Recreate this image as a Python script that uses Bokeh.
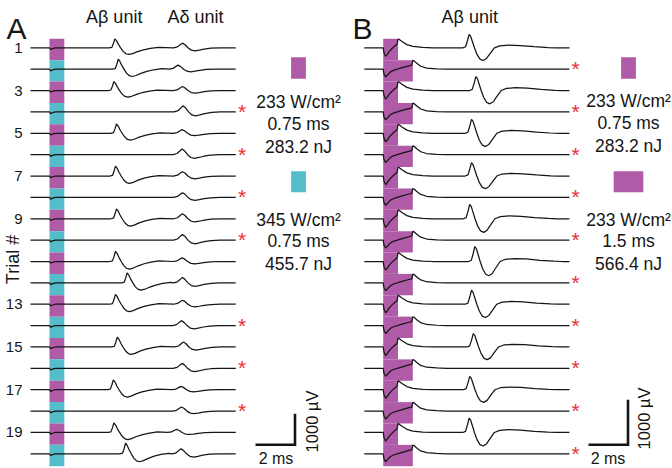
import math
from bokeh.plotting import figure
from bokeh.models import Range1d
from bokeh.embed import file_html
from bokeh.resources import INLINE
from bokeh.core.properties import value

# ------------------------------------------------------------------ data
TRIALS = list(range(1, 21))
TRIAL_TICKS = [1, 3, 5, 7, 9, 13, 15, 17, 19]
TRIAL_TICK_LABELS = ["1", "3", "5", "7", "9", "13", "15", "17", "19"]

TRACE_START_MS = -0.96
TRACE_END_MS = 9.43

# Panel A: alternating 233 / 345 W/cm2 pulses, 0.75 ms
A_STIM_DUR_MS = [0.75] * 20
A_STIM_KIND = ["233", "345"] * 10
A_AB_PEAK_MS = [3.31, 3.48, 3.26, None, 3.39, None, 3.34, None, 3.39, None,
                3.34, 3.93, 3.34, None, 3.43, None, 3.23, None, 3.26, 3.85]
A_AB_AMP_UV = [290, 320, 290, 0, 300, 0, 320, 0, 320, 0,
               330, 320, 320, 0, 320, 0, 320, 0, 310, 345]
A_AD_PEAK_MS = [6.73, 6.51, 6.73, 6.76, 6.71, 6.71, 6.73, 6.73, 6.73, 6.73,
                6.71, 6.73, 6.73, 6.68, 6.78, 6.71, 6.66, 6.68, 6.43, 6.66]
A_AD_AMP_UV = [150, 130, 130, 195, 118, 183, 140, 150, 160, 183,
               118, 172, 130, 160, 160, 160, 108, 130, 100, 160]

# waveform shapes (time from peak in ms, fraction of peak)
AB_A_DT = [-0.30, -0.15, -0.07, 0.0, 0.08, 0.18, 0.29, 0.42, 0.56, 0.71, 0.90, 1.15, 1.45, 1.80, 2.20]
AB_A_REL = [0.0, 0.06, 0.50, 1.0, 0.80, 0.38, 0.0, -0.40, -0.66, -0.74, -0.64, -0.42, -0.22, -0.06, 0.05]
AD_DT = [-0.45, -0.25, -0.10, 0.0, 0.12, 0.28, 0.45, 0.64, 0.85, 1.10, 1.45, 1.90]
AD_REL = [0.0, 0.20, 0.70, 1.0, 0.70, 0.0, -0.50, -0.65, -0.50, -0.28, -0.08, 0.0]
A_ART_T = [0.0, 0.06, 0.15, 0.30]
A_ART_UV = [0.0, -55, -25, 0.0]

# Panel B: alternating 0.75 / 1.5 ms pulses at 233 W/cm2
B_STIM_DUR_MS = [0.75, 1.5] * 10
B_AB_PEAK_MS = [4.35, None, 4.69, None, 4.47, None, 4.47, None, 4.38, None,
                4.64, None, 4.47, None, 4.56, None, 4.38, None, 4.35, None]
B_AB_AMP_UV = [296, 0, 311, 0, 311, 0, 296, 0, 318, 0,
               333, 0, 311, 0, 296, 0, 296, 0, 318, 0]
AB_B_DT = [-0.32, -0.18, -0.08, 0.0, 0.08, 0.17, 0.27, 0.40, 0.55, 0.71, 0.88, 1.05,
           1.28, 1.55, 2.0, 2.6, 3.3, 4.0, 4.4]
AB_B_REL = [0.0, 0.08, 0.55, 1.0, 0.85, 0.45, 0.0, -0.50, -0.85, -0.95, -0.80, -0.45,
            0.0, 0.15, 0.20, 0.17, 0.08, 0.02, 0.0]
ART_SHORT_T = [0.0, 0.04, 0.12, 0.20, 0.32, 0.45, 0.58, 0.70, 0.75, 0.80, 0.95, 1.20, 1.50, 2.00, 2.50]
ART_SHORT_UV = [0, -110, -190, -150, -75, -15, 40, 75, 195, 190, 140, 70, 30, 10, 0]
ART_LONG_T = [0.0, 0.04, 0.12, 0.22, 0.37, 0.55, 0.75, 1.05, 1.30, 1.45, 1.50, 1.56, 1.70, 1.90, 2.20, 2.70, 3.20]
ART_LONG_UV = [0, -110, -175, -130, -60, -20, 5, 45, 75, 90, 195, 185, 130, 65, 25, 8, 0]

A_LEGEND_DUR_MS = [0.75, 0.75]
A_LEGEND_KIND = ["233", "345"]
A_LEGEND_TEXT = [["233 W/cm²", "0.75 ms", "283.2 nJ"], ["345 W/cm²", "0.75 ms", "455.7 nJ"]]
B_LEGEND_DUR_MS = [0.75, 1.5]
B_LEGEND_KIND = ["233", "233"]
B_LEGEND_TEXT = [["233 W/cm²", "0.75 ms", "283.2 nJ"], ["233 W/cm²", "1.5 ms", "566.4 nJ"]]

SCALE_MS = 2
SCALE_UV = 1000

# ------------------------------------------------------------------ style / layout
FONT = "Liberation Sans"
PURPLE = "#B05BA8"
CYAN = "#55BCCB"
KIND_COLOR = {"233": PURPLE, "345": CYAN}
STAR_RED = "#EE2C38"
INK = "#151515"

FIG_W, FIG_H = 672, 468
ROW0_PX, ROW_PX, PX_PER_MS = 47.3, 21.37, 19.75
A_ONSET_PX, B_ONSET_PX = 49.0, 382.7
A_ROWS_PER_UV = 31.0 / 1000 / ROW_PX
B_ROWS_PER_UV = 45.0 / 1000 / ROW_PX
STAR_DY = -0.02


def kpx(py):
    return 1 + (py - ROW0_PX) / ROW_PX


def tA(px):
    return (px - A_ONSET_PX) / PX_PER_MS


def tB(px):
    return (px - B_ONSET_PX) / PX_PER_MS


p = figure(width=FIG_W, height=FIG_H, output_backend="svg", toolbar_location=None,
           tools="", x_range=Range1d(tA(0), tA(FIG_W)),
           y_range=Range1d(kpx(FIG_H), kpx(0)),
           min_border=0, x_axis_location=None, y_axis_location=None)
p.extra_x_ranges = {"B": Range1d(tB(0), tB(FIG_W))}
p.outline_line_color = None
p.background_fill_color = "white"
p.border_fill_color = "white"
try:
    p.grid.visible = False
except Exception:
    pass


def put_text(x, y, s, size, align="center", baseline="middle", angle=0.0,
             color=INK, rng="default"):
    p.text(x=[x], y=[y], text=[s], text_font=value(FONT), text_font_size=value(size),
           text_align=align, text_baseline=baseline, angle=angle, text_color=color,
           x_range_name=rng)


def build_trace(segments):
    ts, vs = [TRACE_START_MS], [0.0]
    for seg_t, seg_v in segments:
        ts += list(seg_t)
        vs += list(seg_v)
    ts.append(TRACE_END_MS)
    vs.append(0.0)
    return ts, vs


def draw_scale_and_legend(tpx, rng, corner_px, ms_lbl_px, uv_lbl_px, rows_per_uv,
                          legend_cx, rect_rows, text_rows, durs, kinds, texts):
    tc, kc = tpx(corner_px[0]), kpx(corner_px[1])
    p.line(x=[tc - SCALE_MS, tc, tc], y=[kc, kc, kc - SCALE_UV * rows_per_uv],
           line_color=INK, line_width=2.6, line_join="miter", x_range_name=rng)
    put_text(tpx(ms_lbl_px[0]), kpx(ms_lbl_px[1]), f"{SCALE_MS} ms", "16px", rng=rng)
    put_text(tpx(uv_lbl_px[0]), kpx(uv_lbl_px[1]), f"{SCALE_UV} µV", "16.5px",
             angle=math.pi / 2, rng=rng)
    tcen = tpx(legend_cx)
    for (top, bot), dur, kind in zip(rect_rows, durs, kinds):
        p.quad(left=[tcen - dur / 2], right=[tcen + dur / 2], top=[kpx(top)], bottom=[kpx(bot)],
               fill_color=KIND_COLOR[kind], line_color=None, x_range_name=rng)
    for ys, lines in zip(text_rows, texts):
        for y, s in zip(ys, lines):
            put_text(tcen, kpx(y), s, "17.5px", rng=rng)


# ------------------------------------------------------------------ panel A
p.quad(left=[0] * 20, right=A_STIM_DUR_MS, top=[k - 0.42 for k in TRIALS],
       bottom=[k + 0.58 for k in TRIALS], fill_color=[KIND_COLOR[c] for c in A_STIM_KIND],
       line_color=None)
xsA, ysA = [], []
for i, k in enumerate(TRIALS):
    segs = [(A_ART_T, A_ART_UV)]
    if A_AB_PEAK_MS[i] is not None:
        segs.append(([A_AB_PEAK_MS[i] + d for d in AB_A_DT], [A_AB_AMP_UV[i] * r for r in AB_A_REL]))
    segs.append(([A_AD_PEAK_MS[i] + d for d in AD_DT], [A_AD_AMP_UV[i] * r for r in AD_REL]))
    t, v = build_trace(segs)
    xsA.append(t)
    ysA.append([k - uv * A_ROWS_PER_UV for uv in v])
p.multi_line(xs=xsA, ys=ysA, line_color=INK, line_width=1.25)

starsA = [k for i, k in enumerate(TRIALS) if A_AB_PEAK_MS[i] is None]
p.text(x=[tA(241.5)] * len(starsA), y=[k + STAR_DY for k in starsA], text=["*"] * len(starsA),
       text_font=value(FONT), text_font_size=value("21px"), text_align="center",
       text_baseline="alphabetic", text_color=STAR_RED)

p.text(x=[tA(22)] * len(TRIAL_TICKS), y=TRIAL_TICKS, text=TRIAL_TICK_LABELS,
       text_font=value(FONT), text_font_size=value("15px"), text_align="right",
       text_baseline="middle", text_color=INK)
put_text(tA(12.5), kpx(259), "Trial #", "18px", angle=math.pi / 2)
put_text(tA(6), kpx(28), "A", "30px", align="left", baseline="alphabetic")
put_text(tA(113.7), kpx(16), "Aβ unit", "18px")
put_text(tA(195), kpx(16), "Aδ unit", "18px")
draw_scale_and_legend(tA, "default", (294.5, 444.3), (275.5, 458), (311, 421), A_ROWS_PER_UV,
                      298, [(56.7, 78.3), (170.7, 191.7)],
                      [(101, 123, 146), (219, 240, 263)],
                      A_LEGEND_DUR_MS, A_LEGEND_KIND, A_LEGEND_TEXT)

# ------------------------------------------------------------------ panel B
p.quad(left=[0] * 20, right=B_STIM_DUR_MS, top=[k - 0.42 for k in TRIALS],
       bottom=[k + 0.58 for k in TRIALS], fill_color=PURPLE, line_color=None,
       x_range_name="B")
xsB, ysB = [], []
for i, k in enumerate(TRIALS):
    if B_STIM_DUR_MS[i] < 1.0:
        segs = [(ART_SHORT_T, ART_SHORT_UV)]
    else:
        segs = [(ART_LONG_T, ART_LONG_UV)]
    if B_AB_PEAK_MS[i] is not None:
        segs.append(([B_AB_PEAK_MS[i] + d for d in AB_B_DT], [B_AB_AMP_UV[i] * r for r in AB_B_REL]))
    t, v = build_trace(segs)
    xsB.append(t)
    ysB.append([k - uv * B_ROWS_PER_UV for uv in v])
p.multi_line(xs=xsB, ys=ysB, line_color=INK, line_width=1.25, x_range_name="B")

starsB = [k for i, k in enumerate(TRIALS) if B_AB_PEAK_MS[i] is None]
p.text(x=[tB(575)] * len(starsB), y=[k + STAR_DY for k in starsB], text=["*"] * len(starsB),
       text_font=value(FONT), text_font_size=value("21px"), text_align="center",
       text_baseline="alphabetic", text_color=STAR_RED, x_range_name="B")

put_text(tB(352), kpx(27.5), "B", "30px", align="left", baseline="alphabetic", rng="B")
put_text(tB(469.3), kpx(16), "Aβ unit", "18px", rng="B")
draw_scale_and_legend(tB, "B", (627.5, 444.3), (607.5, 458), (643, 418),
                      B_ROWS_PER_UV, 628, [(56.7, 78.3), (170.7, 191.7)],
                      [(100, 122, 145), (219, 240, 263)],
                      B_LEGEND_DUR_MS, B_LEGEND_KIND, B_LEGEND_TEXT)

open("out.html", "w").write(file_html(p, INLINE))
